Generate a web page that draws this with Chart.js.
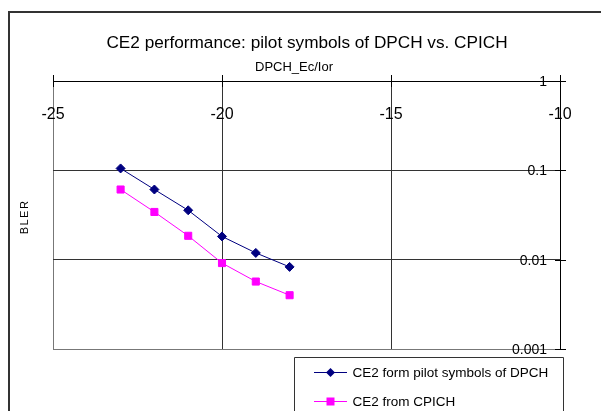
<!DOCTYPE html>
<html>
<head>
<meta charset="utf-8">
<script src="https://cdn.jsdelivr.net/npm/chart.js@4/dist/chart.umd.min.js"></script>
<style>
  html, body { margin: 0; padding: 0; background: #fff; }
  canvas { display: block; }
</style>
</head>
<body>
<canvas id="c" width="601" height="411"></canvas>
<script>
// ---- data ----
const xValues = [-23, -22, -21, -20, -19, -18];
const dpchBler = [0.105, 0.061, 0.0357, 0.0182, 0.0119, 0.0083];
const cpichBler = [0.061, 0.0342, 0.0185, 0.00916, 0.00569, 0.0040];
const seriesNames = ['CE2 form pilot symbols of DPCH', 'CE2 from CPICH'];
const xTickValues = [-25, -20, -15, -10];
const xTickLabels = ['-25', '-20', '-15', '-10'];
const yTickValues = [0.001, 0.01, 0.1, 1];
const yTickLabels = ['0.001', '0.01', '0.1', '1'];
const chartTitle = 'CE2 performance: pilot symbols of DPCH vs. CPICH';
const xAxisTitle = 'DPCH_Ec/Ior';
const yAxisTitle = 'BLER';

const FONT = '"Liberation Sans", Arial, sans-serif';

const decor = {
  id: 'decor',
  beforeDraw(chart) {
    const ctx = chart.ctx;
    ctx.save();
    ctx.fillStyle = '#fff';
    ctx.fillRect(0, 0, chart.width, chart.height);
    // outer frame
    ctx.strokeStyle = '#333';
    ctx.lineWidth = 2;
    ctx.beginPath();
    ctx.moveTo(9, chart.height + 5);
    ctx.lineTo(9, 12);
    ctx.lineTo(chart.width + 5, 12);
    ctx.stroke();
    ctx.restore();
  },
  afterDatasetsDraw(chart) {
    const ctx = chart.ctx;
    const xs = chart.scales.x, ys = chart.scales.y;
    const axisY = ys.getPixelForValue(1);
    const axisX = xs.getPixelForValue(-10);
    ctx.save();
    ctx.strokeStyle = '#000';
    ctx.lineWidth = 1;
    // x tick marks crossing the top axis
    xTickValues.forEach(v => {
      const px = Math.round(xs.getPixelForValue(v)) + 0.5;
      ctx.beginPath();
      ctx.moveTo(px, axisY - 6);
      ctx.lineTo(px, axisY + 6);
      ctx.stroke();
    });
    // y tick marks crossing the right axis
    yTickValues.forEach(v => {
      const py = Math.round(ys.getPixelForValue(v)) + 0.5;
      ctx.beginPath();
      ctx.moveTo(axisX - 5, py);
      ctx.lineTo(axisX + 6, py);
      ctx.stroke();
    });
    // tick labels
    ctx.fillStyle = '#000';
    ctx.font = '16px ' + FONT;
    ctx.textAlign = 'center';
    ctx.textBaseline = 'middle';
    xTickValues.forEach((v, i) => {
      ctx.fillText(xTickLabels[i], xs.getPixelForValue(v), axisY + 34);
    });
    ctx.font = '14px ' + FONT;
    ctx.textAlign = 'right';
    yTickValues.forEach((v, i) => {
      ctx.fillText(yTickLabels[i], axisX - 13, ys.getPixelForValue(v) + 1);
    });
    // titles
    ctx.font = '17.2px ' + FONT;
    ctx.textAlign = 'center';
    ctx.fillText(chartTitle, 307, 43);
    ctx.font = '13px ' + FONT;
    ctx.fillText(xAxisTitle, 294, 67);
    ctx.save();
    ctx.translate(25, 217);
    ctx.rotate(-Math.PI / 2);
    ctx.font = '11px ' + FONT;
    try { ctx.letterSpacing = '1.5px'; } catch (e) {}
    ctx.fillText(yAxisTitle, 0, 0);
    ctx.restore();

    // legend
    const lx = 294.5, ly = 357.5;
    ctx.strokeStyle = '#333';
    ctx.lineWidth = 1;
    ctx.beginPath();
    ctx.moveTo(lx, chart.height + 5);
    ctx.lineTo(lx, ly);
    ctx.lineTo(563.5, ly);
    ctx.lineTo(563.5, chart.height + 5);
    ctx.stroke();
    const rows = [372, 401];
    chart.data.datasets.forEach((ds, i) => {
      const y = rows[i];
      ctx.strokeStyle = ds.borderColor;
      ctx.lineWidth = 1;
      ctx.beginPath();
      ctx.moveTo(314, y + 0.5);
      ctx.lineTo(347, y + 0.5);
      ctx.stroke();
      ctx.fillStyle = ds.pointBackgroundColor;
      ctx.beginPath();
      if (ds.pointStyle === 'rectRot') {
        const r = 4.5;
        ctx.moveTo(330.5, y + 0.5 - r);
        ctx.lineTo(330.5 + r, y + 0.5);
        ctx.lineTo(330.5, y + 0.5 + r);
        ctx.lineTo(330.5 - r, y + 0.5);
        ctx.closePath();
      } else {
        ctx.rect(326.5, y - 3.5, 8, 8);
      }
      ctx.fill();
      ctx.fillStyle = '#000';
      ctx.font = '13.5px ' + FONT;
      ctx.textAlign = 'left';
      ctx.textBaseline = 'middle';
      ctx.fillText(ds.label, 352.5, y + 1);
    });
    ctx.restore();
  }
};

new Chart(document.getElementById('c'), {
  type: 'line',
  data: {
    datasets: [
      {
        label: seriesNames[0],
        data: xValues.map((x, i) => ({ x, y: dpchBler[i] })),
        borderColor: '#000080',
        backgroundColor: '#000080',
        pointBackgroundColor: '#000080',
        pointBorderColor: '#000080',
        pointStyle: 'rectRot',
        pointRadius: 4.5,
        pointBorderWidth: 1,
        borderWidth: 1,
        tension: 0
      },
      {
        label: seriesNames[1],
        data: xValues.map((x, i) => ({ x, y: cpichBler[i] })),
        borderColor: '#FF00FF',
        backgroundColor: '#FF00FF',
        pointBackgroundColor: '#FF00FF',
        pointBorderColor: '#FF00FF',
        pointStyle: 'rect',
        pointRadius: 5,
        pointBorderWidth: 1,
        borderWidth: 1,
        tension: 0
      }
    ]
  },
  options: {
    responsive: false,
    animation: false,
    devicePixelRatio: 1,
    layout: { padding: { left: 53, top: 81, right: 41, bottom: 62 } },
    plugins: { legend: { display: false }, title: { display: false }, tooltip: { enabled: false } },
    scales: {
      x: {
        type: 'linear',
        min: -25, max: -10,
        afterBuildTicks: s => { s.ticks = xTickValues.map(v => ({ value: v })); },
        ticks: { display: false },
        border: { display: false },
        grid: {
          drawTicks: false,
          lineWidth: 1,
          color: c => (c.tick && c.tick.value === -10) ? '#000' : (c.tick && c.tick.value === -25 ? '#777' : '#333')
        }
      },
      y: {
        type: 'logarithmic',
        min: 0.001, max: 1,
        afterBuildTicks: s => { s.ticks = yTickValues.map(v => ({ value: v })); },
        ticks: { display: false },
        border: { display: false },
        grid: {
          drawTicks: false,
          lineWidth: 1,
          color: c => (c.tick && c.tick.value === 1) ? '#000' : (c.tick && c.tick.value === 0.001 ? '#777' : '#333')
        }
      }
    }
  },
  plugins: [decor]
});
</script>
</body>
</html>
